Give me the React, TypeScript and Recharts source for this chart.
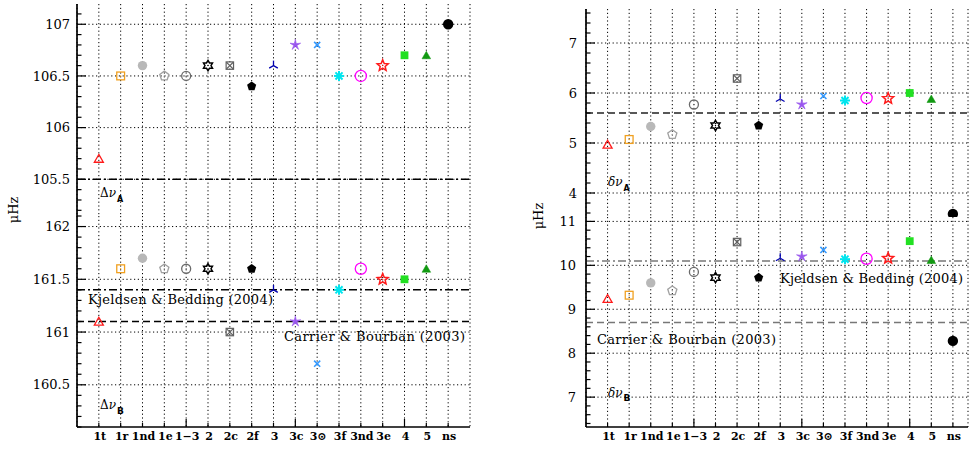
import React from "react";
import { ScatterChart, Scatter, XAxis, YAxis, ReferenceLine, CartesianGrid } from "recharts";

const categories = ["1t", "1r", "1nd", "1e", "1\u22123", "2", "2c", "2f", "3", "3c", "3\u2299", "3f", "3nd", "3e", "4", "5", "ns"];
const xMajorTicks = [4, 9, 14];

// large separations (top-left / bottom-left)
const deltaNuA = [105.7, 106.5, 106.6, 106.5, 106.5, 106.6, 106.6, 106.4, 106.6, 106.8, 106.8, 106.5, 106.5, 106.6, 106.7, 106.7, 107.0];
const deltaNuB = [161.1, 161.6, 161.7, 161.6, 161.6, 161.6, 161.0, 161.6, 161.4, 161.1, 160.7, 161.4, 161.6, 161.5, 161.5, 161.6, null];
// small separations (top-right / bottom-right)
const smallNuA = [4.97, 5.07, 5.33, 5.17, 5.77, 5.35, 6.29, 5.35, 5.88, 5.77, 5.94, 5.85, 5.9, 5.89, 6.0, 5.88, 3.58];
const smallNuB = [9.24, 9.32, 9.6, 9.42, 9.85, 9.72, 10.53, 9.72, 10.16, 10.2, 10.35, 10.14, 10.15, 10.16, 10.55, 10.12, 8.28];

const deltaNuATicks = [105.5, 106, 106.5, 107];
const deltaNuBTicks = [160.5, 161, 161.5, 162];
const smallNuATicks = [4, 5, 6, 7];
const smallNuBTicks = [7, 8, 9, 10, 11];

const refDeltaNuA = 105.5;
const kjeldsenDeltaNuB = 161.4;
const carrierDeltaNuB = 161.1;
const carrierSmallNuA = 5.6;
const kjeldsenSmallNuB = 10.1;
const carrierSmallNuB = 8.7;

const KB = "Kjeldsen & Bedding (2004)";
const CB = "Carrier & Bourban (2003)";

const FONT = "'DejaVu Serif', 'Liberation Serif', serif";
const AX = { stroke: "#000", strokeWidth: 1.7 };
const DASH = "7 4";
const DASHDOT = "8 3 2 3";
const DOTS = "1.2 2.6";

const MARKERS = [
  { kind: "triOpen", color: "#ff1a1a", r: 5.2 },
  { kind: "squareOpen", color: "#f0a020", r: 3.9 },
  { kind: "circleFill", color: "#b8b8b8", r: 4.7 },
  { kind: "pentOpen", color: "#a0a0a0", r: 4.8 },
  { kind: "circleOpen", color: "#6a6a6a", r: 4.5 },
  { kind: "david", color: "#000", r: 5.2 },
  { kind: "boxX", color: "#606060", r: 3.7 },
  { kind: "pentFill", color: "#000", r: 4.8 },
  { kind: "tri3", color: "#0000b0", r: 5 },
  { kind: "skel5", color: "#9955ee", r: 5.6 },
  { kind: "cross", color: "#3399ff", r: 4.3 },
  { kind: "aster", color: "#00e5ee", r: 5 },
  { kind: "circleOpen", color: "#ff00ff", r: 5.6 },
  { kind: "starOpen", color: "#ff1a1a", r: 5.8 },
  { kind: "squareFill", color: "#22e022", r: 3.9 },
  { kind: "triFill", color: "#119911", r: 5 },
  { kind: "circleFill", color: "#000", r: 5.2 },
];

function poly(cx: number, cy: number, r: number, n: number, inner = 0, rot = -90) {
  const m = inner ? n * 2 : n;
  const pts: string[] = [];
  for (let k = 0; k < m; k++) {
    const a = ((rot + (k * 360) / m) * Math.PI) / 180;
    const rr = inner && k % 2 === 1 ? r * inner : r;
    pts.push(`${(cx + rr * Math.cos(a)).toFixed(2)},${(cy + rr * Math.sin(a)).toFixed(2)}`);
  }
  return pts.join(" ");
}

function spokes(cx: number, cy: number, r: number, n: number, rot: number, c: string, sw: number) {
  const out = [];
  for (let k = 0; k < n; k++) {
    const a = ((rot + (k * 360) / n) * Math.PI) / 180;
    out.push(<line key={k} x1={cx} y1={cy} x2={cx + r * Math.cos(a)} y2={cy + r * Math.sin(a)} stroke={c} strokeWidth={sw} />);
  }
  return out;
}

function Marker({ cx, cy, i }: { cx: number; cy: number; i: number }) {
  const { kind, color: c, r } = MARKERS[i];
  const sw = 1.3;
  const dot = <circle cx={cx} cy={cy} r={0.7} fill={c} />;
  switch (kind) {
    case "triOpen":
      return <polygon points={poly(cx, cy + 1, r, 3)} fill="none" stroke={c} strokeWidth={sw} />;
    case "triFill":
      return <polygon points={poly(cx, cy + 1, r, 3)} fill={c} stroke={c} strokeWidth={0.5} />;
    case "squareOpen":
      return <g><rect x={cx - r} y={cy - r} width={2 * r} height={2 * r} fill="none" stroke={c} strokeWidth={sw} />{dot}</g>;
    case "squareFill":
      return <rect x={cx - r} y={cy - r} width={2 * r} height={2 * r} fill={c} />;
    case "circleFill":
      return <circle cx={cx} cy={cy} r={r} fill={c} />;
    case "circleOpen":
      return <g><circle cx={cx} cy={cy} r={r} fill="none" stroke={c} strokeWidth={sw} />{i === 4 ? dot : null}</g>;
    case "pentOpen":
      return <g><polygon points={poly(cx, cy, r, 5)} fill="none" stroke={c} strokeWidth={sw} />{dot}</g>;
    case "pentFill":
      return <polygon points={poly(cx, cy, r, 5)} fill={c} />;
    case "david":
      return <g><polygon points={poly(cx, cy, r, 6, 0.58)} fill="none" stroke={c} strokeWidth={1.5} />{dot}</g>;
    case "boxX":
      return (
        <g>
          <rect x={cx - r} y={cy - r} width={2 * r} height={2 * r} fill="none" stroke={c} strokeWidth={1.2} />
          {spokes(cx, cy, r * 1.3, 4, 45, c, 1.2)}
        </g>
      );
    case "tri3":
      return <g>{spokes(cx, cy, r, 3, -90, c, 1.3)}</g>;
    case "skel5":
      return <g><polygon points={poly(cx, cy, r, 5, 0.3)} fill={c} stroke={c} strokeWidth={0.6} /></g>;
    case "cross":
      return <g>{spokes(cx, cy, r, 4, 45, c, 1.6)}</g>;
    case "aster":
      return <g>{spokes(cx, cy, r, 8, 0, c, 2)}</g>;
    case "starOpen":
      return <g><polygon points={poly(cx, cy, r, 5, 0.45)} fill="none" stroke={c} strokeWidth={1.5} />{dot}</g>;
    default:
      return null;
  }
}

function minorTicks(lo: number, hi: number, step: number) {
  const out: number[] = [];
  for (let v = Math.ceil(lo / step - 1e-9) * step; v <= hi + 1e-9; v += step) out.push(Math.round(v * 100) / 100);
  return out;
}

type RefSpec = {
  y: number;
  dash: string;
  color: string;
  label?: string;
  side?: "left" | "right";
  dy?: number;
  len?: number;
};

type PanelProps = {
  left: number;
  top: number;
  width: number;
  height: number;
  margin: { top: number; right: number; bottom: number; left: number };
  yWidth: number;
  labelGap: number;
  xDomain: [number, number];
  yDomain: [number, number];
  values: (number | null)[];
  majors: number[];
  minorStep: number;
  showXLabels: boolean;
  refs: RefSpec[];
};

const idx = categories.map((_, i) => i);
const isMajor = (v: number, majors: number[]) => majors.some((m) => Math.abs(m - v) < 1e-6);

function Panel(p: PanelProps) {
  const rows = p.values
    .map((v, i) => ({ x: i, y: v }))
    .filter((d) => d.y != null);
  const yTicks = minorTicks(p.yDomain[0], p.yDomain[1], p.minorStep);
  const xHeight = p.showXLabels ? 24 : 0;
  // plot edges inside this chart's svg
  const plotLeft = p.margin.left + p.yWidth;
  const plotRight = p.width - p.margin.right;
  const plotTop = p.margin.top;
  const plotBottom = p.height - p.margin.bottom - xHeight;

  return (
    <div style={{ position: "absolute", left: p.left, top: p.top }}>
      <ScatterChart width={p.width} height={p.height} margin={p.margin}>
        <CartesianGrid xAxisId="b" yAxisId="l" horizontal={false} stroke="#000" strokeDasharray={DOTS} strokeWidth={1} />
        {p.majors.map((v) => (
          <ReferenceLine key={"g" + v} xAxisId="b" yAxisId="l" y={v} stroke="#000" strokeDasharray={DOTS} strokeWidth={1} />
        ))}
        <XAxis
          xAxisId="b"
          type="number"
          dataKey="x"
          domain={p.xDomain}
          ticks={idx}
          interval={0}
          allowDataOverflow
          height={xHeight}
          tickSize={0}
          tickMargin={4}
          axisLine={AX}
          tick={(t: any) => {
            const len = xMajorTicks.includes(t.payload.value) ? 8 : 4;
            return (
              <g>
                <line x1={t.x} x2={t.x} y1={plotBottom} y2={plotBottom - len} stroke="#000" strokeWidth={1.2} />
                {p.showXLabels && (
                  <text x={t.x + 1} y={plotBottom + 13} textAnchor="middle" fontFamily={FONT} fontWeight="bold" fontSize={11} fill="#000">
                    {categories[t.payload.value]}
                  </text>
                )}
              </g>
            );
          }}
        />
        <XAxis
          xAxisId="t"
          orientation="top"
          type="number"
          domain={p.xDomain}
          ticks={idx}
          interval={0}
          allowDataOverflow
          height={0}
          tickSize={0}
          tickMargin={0}
          axisLine={AX}
          tick={(t: any) => {
            const len = xMajorTicks.includes(t.payload.value) ? 8 : 4;
            return <line x1={t.x} x2={t.x} y1={plotTop} y2={plotTop + len} stroke="#000" strokeWidth={1.2} />;
          }}
        />
        <YAxis
          yAxisId="l"
          type="number"
          dataKey="y"
          domain={p.yDomain}
          ticks={yTicks}
          interval={0}
          allowDataOverflow
          width={p.yWidth}
          tickSize={0}
          tickMargin={p.labelGap}
          axisLine={AX}
          tick={(t: any) => {
            const v = t.payload.value;
            const major = isMajor(v, p.majors);
            return (
              <g>
                <line x1={plotLeft} x2={plotLeft + (major ? 9 : 4.5)} y1={t.y} y2={t.y} stroke="#000" strokeWidth={1.2} />
                {major && (
                  <text x={plotLeft - p.labelGap} y={t.y} dy="0.36em" textAnchor="end" fontFamily={FONT} fontSize={13} fill="#000">
                    {String(v)}
                  </text>
                )}
              </g>
            );
          }}
        />
        <YAxis
          yAxisId="r"
          orientation="right"
          type="number"
          domain={p.yDomain}
          ticks={yTicks}
          interval={0}
          allowDataOverflow
          width={0}
          tickSize={0}
          tickMargin={0}
          axisLine={AX}
          tick={(t: any) => {
            const major = isMajor(t.payload.value, p.majors);
            return <line x1={plotRight} x2={plotRight - (major ? 9 : 4.5)} y1={t.y} y2={t.y} stroke="#000" strokeWidth={1.2} />;
          }}
        />
        {p.refs.map((r, k) => (
          <ReferenceLine
            key={k}
            xAxisId="b"
            yAxisId="l"
            y={r.y}
            stroke={r.color}
            strokeWidth={1.5}
            strokeDasharray={r.dash}
            label={
              r.label
                ? {
                    content: (lp: any) => {
                      const vb = lp.viewBox || {};
                      const right = r.side === "right";
                      return (
                        <text
                          x={right ? plotRight - 5 : plotLeft + 11}
                          y={vb.y + (r.dy ?? 14)}
                          textAnchor={right ? "end" : "start"}
                          fontFamily={FONT}
                          fontSize={13}
                          textLength={r.len}
                          lengthAdjust="spacing"
                          fill="#000"
                        >
                          {r.label}
                        </text>
                      );
                    },
                  }
                : undefined
            }
          />
        ))}
        <Scatter
          xAxisId="b"
          yAxisId="l"
          data={rows}
          isAnimationActive={false}
          shape={(s: any) => <Marker cx={s.cx} cy={s.cy} i={s.payload.x} />}
        />
      </ScatterChart>
    </div>
  );
}

function NuLabel({ x, y, big, nu, sub, subDx, subDy, subSize }: any) {
  return (
    <text x={x} y={y} fontFamily={FONT} fontSize={12} fill="#000">
      <tspan fontStyle={big === "\u0394" ? "normal" : "italic"}>{big}</tspan>
      <tspan fontStyle="italic">{nu}</tspan>
      <tspan dx={subDx} dy={subDy} fontSize={subSize} fontWeight="bold" fontFamily="'DejaVu Sans', sans-serif">
        {sub}
      </tspan>
    </text>
  );
}

export default function App() {
  const leftX: [number, number] = [-1, 17];
  const rightX: [number, number] = [-1, 16.7];
  return (
    <div style={{ position: "absolute", left: 0, top: 0, width: 969, height: 451, background: "#fff", overflow: "hidden" }}>
      <Panel
        left={0}
        top={0}
        width={480}
        height={216}
        margin={{ top: 4, right: 10, bottom: 0, left: 0 }}
        yWidth={77}
        labelGap={7}
        xDomain={leftX}
        yDomain={[105.145, 107.196]}
        values={deltaNuA}
        majors={deltaNuATicks}
        minorStep={0.1}
        showXLabels={false}
        refs={[{ y: refDeltaNuA, dash: DASHDOT, color: "#000" }]}
      />
      <Panel
        left={0}
        top={206}
        width={480}
        height={245}
        margin={{ top: 10, right: 10, bottom: 0, left: 0 }}
        yWidth={77}
        labelGap={7}
        xDomain={leftX}
        yDomain={[160.1, 162.1]}
        values={deltaNuB}
        majors={deltaNuBTicks}
        minorStep={0.1}
        showXLabels={true}
        refs={[
          { y: kjeldsenDeltaNuB, dash: DASHDOT, color: "#000", label: KB, side: "left", dy: 14, len: 185 },
          { y: carrierDeltaNuB, dash: DASH, color: "#000", label: CB, side: "right", dy: 19, len: 181 },
        ]}
      />
      <Panel
        left={490}
        top={0}
        width={479}
        height={217}
        margin={{ top: 9, right: 1, bottom: 0, left: 0 }}
        yWidth={96}
        labelGap={9}
        xDomain={rightX}
        yDomain={[3.52, 7.68]}
        values={smallNuA}
        majors={smallNuATicks}
        minorStep={0.2}
        showXLabels={false}
        refs={[{ y: carrierSmallNuA, dash: DASH, color: "#222" }]}
      />
      <Panel
        left={490}
        top={207}
        width={479}
        height={244}
        margin={{ top: 10, right: 1, bottom: 0, left: 0 }}
        yWidth={96}
        labelGap={10}
        xDomain={rightX}
        yDomain={[6.32, 11.1]}
        values={smallNuB}
        majors={smallNuBTicks}
        minorStep={0.2}
        showXLabels={true}
        refs={[
          { y: kjeldsenSmallNuB, dash: DASHDOT, color: "#777", label: KB, side: "right", dy: 22, len: 183 },
          { y: carrierSmallNuB, dash: DASH, color: "#777", label: CB, side: "left", dy: 21.5, len: 179 },
        ]}
      />
      <svg width={969} height={451} style={{ position: "absolute", left: 0, top: 0, pointerEvents: "none" }}>
        <NuLabel x={100} y={197} big={"\u0394"} nu={"\u03bd"} sub="A" subDx={1} subDy={5} subSize={8} />
        <NuLabel x={100} y={409} big={"\u0394"} nu={"\u03bd"} sub="B" subDx={1} subDy={5} subSize={9} />
        <NuLabel x={608} y={186} big={"\u03b4"} nu={"\u03bd"} sub="A" subDx={1} subDy={5} subSize={8} />
        <NuLabel x={608} y={397} big={"\u03b4"} nu={"\u03bd"} sub="B" subDx={1} subDy={4} subSize={9} />
        <text x={13} y={210} transform="rotate(-90 13 210)" textAnchor="middle" dy="0.36em" fontFamily={FONT} fontSize={13} fill="#000">
          {"\u03bcHz"}
        </text>
        <text x={538} y={216} transform="rotate(-90 538 216)" textAnchor="middle" dy="0.36em" fontFamily={FONT} fontSize={13} fill="#000">
          {"\u03bcHz"}
        </text>
      </svg>
    </div>
  );
}
